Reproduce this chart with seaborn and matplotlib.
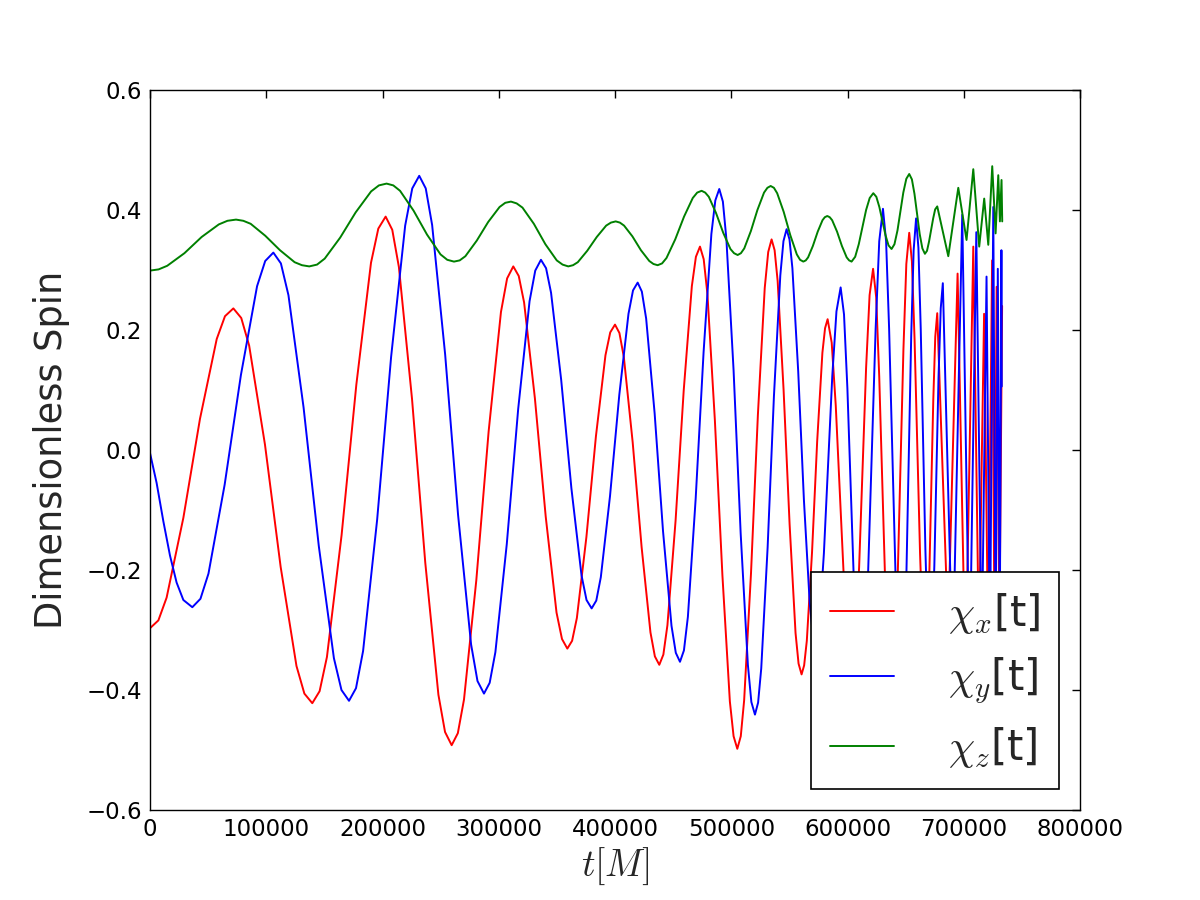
import numpy as np
import pandas as pd
import matplotlib
matplotlib.use("Agg")
import matplotlib.pyplot as plt
import seaborn as sns

# Values (t in M, dimensionless spin components)
t_x = [0, 7200, 14300, 28700, 43000, 57400, 64500, 71700,
       78500, 85300, 98900, 112400, 126000, 132800, 139600,
       145900, 152200, 164800, 177500, 190100, 196400, 202700,
       208400, 214100, 225400, 236800, 248100, 253800, 259500,
       264800, 270100, 280700, 291300, 301900, 307200, 312500,
       317200, 321800, 331100, 340400, 349700, 354400, 359000,
       363100, 367200, 375400, 383600, 391800, 395900, 400000,
       403800, 407600, 415200, 422900, 430500, 434300, 438100,
       441600, 445100, 452100, 459100, 466100, 469600, 473100,
       476300, 479500, 485900, 492400, 498800, 502000, 505200,
       508200, 511100, 517000, 522900, 528800, 531800, 534700,
       537300, 539900, 545000, 550200, 555300, 557900, 560500,
       562700, 565000, 569500, 573900, 578400, 580700, 582900,
       586400, 589900, 596900, 600500, 604000,
       607000, 610000, 616000, 619000, 622000,
       624700, 627300, 632700, 635300, 638000,
       640500, 643000, 648100, 650600, 653100,
       655400, 657700, 662400, 664700, 667000,
       668700, 670400, 673800, 675500, 677200,
       686500, 694700, 701500, 708200, 713000, 717500, 721000, 724400,
       726400, 728300, 730700, 733000]
chi_x = [-0.297, -0.284, -0.246, -0.113, 0.052, 0.185, 0.223, 0.236,
         0.220, 0.174, 0.009, -0.195, -0.360, -0.406, -0.422,
         -0.402, -0.345, -0.142, 0.109, 0.312, 0.369, 0.389,
         0.367, 0.305, 0.085, -0.188, -0.408, -0.470, -0.492,
         -0.472, -0.416, -0.217, 0.031, 0.230, 0.286, 0.306,
         0.290, 0.246, 0.086, -0.111, -0.271, -0.315, -0.331,
         -0.318, -0.280, -0.145, 0.023, 0.158, 0.196, 0.209,
         0.195, 0.155, 0.013, -0.162, -0.304, -0.344, -0.358,
         -0.341, -0.292, -0.118, 0.099, 0.273, 0.322, 0.339,
         0.318, 0.260, 0.050, -0.209, -0.419, -0.477, -0.498,
         -0.477, -0.417, -0.205, 0.058, 0.270, 0.330, 0.351,
         0.333, 0.282, 0.101, -0.124, -0.305, -0.356, -0.374,
         -0.359, -0.318, -0.170, 0.014, 0.162, 0.203, 0.218,
         0.179, 0.074, -0.216, -0.321, -0.360,
         -0.316, -0.195, 0.137, 0.258, 0.302,
         0.254, 0.122, -0.240, -0.372, -0.420,
         -0.368, -0.225, 0.167, 0.310, 0.362,
         0.314, 0.184, -0.172, -0.302, -0.350,
         -0.311, -0.206, 0.084, 0.189, 0.228,
         -0.300, 0.294, -0.380, 0.339, -0.320, 0.227, -0.330, 0.316,
         -0.300, 0.272, -0.300, 0.240]

t_y = [0, 5700, 11500, 17200, 22900, 28700, 36400,
       43400, 50300, 64200, 78200, 92100, 99100, 106100,
       112600, 119100, 132100, 145200, 158200, 164700, 171200,
       177200, 183300, 195400, 207400, 219500, 225600, 231600,
       237200, 242700, 253900, 265000, 276200, 281700, 287300,
       292200, 297100, 306900, 316700, 326500, 331400, 336300,
       340700, 345000, 353700, 362500, 371200, 375500, 379900,
       383900, 387800, 395700, 403700, 411600, 415500, 419500,
       423100, 426800, 434100, 441300, 448600, 452300, 455900,
       459300, 462700, 469400, 476200, 482900, 486300, 489700,
       492800, 495800, 502000, 508100, 514300, 517300, 520400,
       523100, 525800, 531300, 536700, 542200, 544900, 547600,
       550100, 552600, 557600, 562500, 567500, 570000, 572500,
       576100, 579700, 586900, 590500, 594100,
       597000, 599900, 605700, 608600, 611500,
       614700, 617800, 624200, 627300, 630500,
       633200, 635800, 641200, 643800, 646500,
       648600, 650700, 654800, 656900, 659000,
       661000, 663000, 667000, 669000, 671000,
       672800, 674700, 678300, 680200, 682000,
       690500, 698700, 705000, 710800, 715500, 719600, 722500, 725400,
       727400, 729300, 731000, 732400, 732700]
chi_y = [-0.005, -0.055, -0.119, -0.176, -0.221, -0.250, -0.262,
         -0.248, -0.206, -0.058, 0.125, 0.273, 0.315, 0.329,
         0.311, 0.258, 0.071, -0.160, -0.347, -0.400, -0.418,
         -0.397, -0.335, -0.116, 0.155, 0.374, 0.436, 0.457,
         0.436, 0.375, 0.159, -0.108, -0.324, -0.385, -0.406,
         -0.388, -0.337, -0.157, 0.068, 0.248, 0.299, 0.317,
         0.303, 0.262, 0.117, -0.064, -0.209, -0.250, -0.264,
         -0.251, -0.212, -0.077, 0.092, 0.227, 0.266, 0.279,
         0.264, 0.219, 0.061, -0.135, -0.293, -0.338, -0.353,
         -0.334, -0.278, -0.081, 0.163, 0.360, 0.416, 0.435,
         0.414, 0.352, 0.133, -0.139, -0.358, -0.420, -0.441,
         -0.421, -0.364, -0.162, 0.089, 0.291, 0.348, 0.368,
         0.351, 0.303, 0.131, -0.083, -0.255, -0.303, -0.320,
         -0.280, -0.172, 0.123, 0.231, 0.271,
         0.226, 0.103, -0.232, -0.355, -0.400,
         -0.346, -0.200, 0.202, 0.348, 0.402,
         0.348, 0.202, -0.200, -0.346, -0.400,
         -0.347, -0.204, 0.190, 0.333, 0.386,
         0.337, 0.202, -0.166, -0.301, -0.350,
         -0.308, -0.193, 0.121, 0.236, 0.278,
         -0.360, 0.392, -0.380, 0.363, -0.340, 0.289, -0.350, 0.405,
         -0.330, 0.302, -0.300, 0.333, 0.106]

t_z = [0, 7400, 14800, 29600, 44400, 59200, 66600, 74000,
       80300, 86600, 99200, 111800, 124400, 130700, 137000,
       143700, 150300, 163600, 176900, 190200, 196900, 203500,
       209300, 215100, 226700, 238300, 249900, 255700, 261500,
       266400, 271300, 281100, 290900, 300700, 305600, 310500,
       315400, 320400, 330200, 340100, 349900, 354900, 359800,
       363900, 368000, 376100, 384300, 392400, 396500, 400600,
       404200, 407800, 415000, 422300, 429500, 433100, 436700,
       440500, 444300, 451800, 459400, 466900, 470700, 474500,
       477600, 480700, 486900, 493100, 499300, 502400, 505500,
       508300, 511200, 516900, 522500, 528200, 531100, 533900,
       536700, 539500, 545100, 550800, 556400, 559200, 562000,
       564100, 566100, 570200, 574400, 578500, 580500, 582600,
       584700, 586800, 591000, 595200, 599300, 601400, 603500,
       606600, 609700, 616000, 619100, 622200,
       624800, 627400, 632700, 635300, 637900,
       640400, 643000, 648000, 650600, 653100,
       655400, 657600, 662100, 664400, 666600,
       668400, 670100, 673700, 675400, 677200,
       686700, 695300, 702400, 708200, 713300, 717600, 721100, 724500,
       727400, 729700, 731100, 732500, 733100]
chi_z = [0.299, 0.301, 0.307, 0.328, 0.355, 0.376, 0.382, 0.384,
         0.382, 0.377, 0.357, 0.333, 0.313, 0.308, 0.306,
         0.309, 0.319, 0.354, 0.396, 0.431, 0.441, 0.444,
         0.441, 0.432, 0.399, 0.359, 0.326, 0.317, 0.314,
         0.316, 0.323, 0.349, 0.380, 0.405, 0.412, 0.414,
         0.411, 0.404, 0.377, 0.343, 0.316, 0.309, 0.306,
         0.308, 0.313, 0.332, 0.355, 0.374, 0.379, 0.381,
         0.379, 0.374, 0.356, 0.333, 0.315, 0.310, 0.308,
         0.311, 0.320, 0.351, 0.389, 0.420, 0.429, 0.432,
         0.429, 0.422, 0.395, 0.362, 0.335, 0.328, 0.325,
         0.328, 0.336, 0.365, 0.400, 0.429, 0.437, 0.440,
         0.437, 0.428, 0.397, 0.358, 0.326, 0.317, 0.314,
         0.316, 0.321, 0.340, 0.364, 0.383, 0.388, 0.390,
         0.388, 0.383, 0.364, 0.340, 0.321, 0.316, 0.314,
         0.322, 0.343, 0.400, 0.420, 0.428,
         0.422, 0.405, 0.358, 0.341, 0.335,
         0.343, 0.366, 0.429, 0.452, 0.460,
         0.451, 0.427, 0.360, 0.336, 0.327,
         0.332, 0.347, 0.386, 0.401, 0.406,
         0.323, 0.437, 0.350, 0.468, 0.339, 0.419, 0.342, 0.473,
         0.361, 0.458, 0.381, 0.450, 0.381]

labels = [r'$\chi_x$[t]', r'$\chi_y$[t]', r'$\chi_z$[t]']
colors = ['red', 'blue', 'green']
xticks = [0, 100000, 200000, 300000, 400000, 500000, 600000, 700000, 800000]
yticks = [-0.6, -0.4, -0.2, 0.0, 0.2, 0.4, 0.6]

sns.set_style("white")
plt.rcParams['font.family'] = ['DejaVu Sans']
plt.rcParams['mathtext.fontset'] = 'cm'
plt.rcParams['axes.unicode_minus'] = True

fig = plt.figure(figsize=(12, 9), dpi=100)
ax = fig.add_axes([0.125, 0.1, 0.775, 0.8])

series = [(t_x, chi_x), (t_y, chi_y), (t_z, chi_z)]
for (tt, vv), lab, col in zip(series, labels, colors):
    df = pd.DataFrame({'t': tt, 'chi': vv})
    sns.lineplot(data=df, x='t', y='chi', color=col, linewidth=1.4,
                 estimator=None, errorbar=None, label=lab, ax=ax, legend=False)

ax.set_xlim(0, 800000)
ax.set_ylim(-0.6, 0.6)
ax.set_xticks(xticks)
ax.set_xticklabels([str(v) for v in xticks])
ax.set_yticks(yticks)
ax.set_yticklabels([f'{v:.1f}'.replace('-', '\u2212') for v in yticks])

ax.tick_params(direction='in', length=6, width=1, top=True, right=True,
               labelsize=16.5, pad=5.5, colors='black')
for sp in ax.spines.values():
    sp.set_visible(True)
    sp.set_color('black')
    sp.set_linewidth(1.0)

ax.set_xlabel(r'$t[M]$', fontsize=27)
ax.set_ylabel('Dimensionless Spin', fontsize=26.5, labelpad=12)

leg = ax.legend(loc='lower right', bbox_to_anchor=(0.9774, 0.0292),
                bbox_transform=ax.transAxes, borderaxespad=0, fontsize=30,
                frameon=True, fancybox=False, framealpha=1, edgecolor='black',
                borderpad=0.45, labelspacing=0.47, handlelength=1.53,
                handletextpad=1.3)
leg.get_frame().set_linewidth(1.2)

fig.savefig('out.png', dpi=100, facecolor='white')
